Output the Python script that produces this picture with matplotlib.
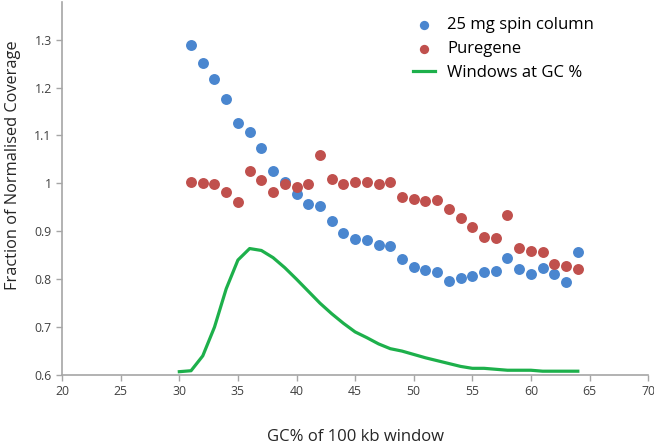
import matplotlib
matplotlib.use('Agg')
import matplotlib.pyplot as plt

plt.rcParams['font.family'] = ['Open Sans', 'DejaVu Sans']

# GC% bins
gc = list(range(31, 65))
# 25 mg spin column coverage
spin = [1.288, 1.251, 1.217, 1.177, 1.127, 1.107, 1.074, 1.026, 1.002, 0.978,
        0.956, 0.953, 0.922, 0.897, 0.884, 0.881, 0.872, 0.870, 0.842, 0.826,
        0.819, 0.814, 0.797, 0.803, 0.806, 0.814, 0.817, 0.844, 0.821, 0.811,
        0.823, 0.811, 0.794, 0.856]
# Puregene coverage
puregene = [1.002, 1.000, 0.999, 0.982, 0.962, 1.025, 1.007, 0.982, 0.999, 0.992,
            0.999, 1.059, 1.010, 0.999, 1.003, 1.003, 0.999, 1.003, 0.971, 0.968,
            0.963, 0.966, 0.946, 0.927, 0.909, 0.889, 0.886, 0.935, 0.866, 0.859,
            0.856, 0.831, 0.828, 0.821]
# distribution of windows at each GC%
gc_win = list(range(30, 65))
windows = [0.607, 0.609, 0.640, 0.700, 0.780, 0.840, 0.864, 0.860, 0.845, 0.824,
           0.800, 0.775, 0.750, 0.728, 0.708, 0.690, 0.678, 0.665, 0.655, 0.650,
           0.643, 0.636, 0.630, 0.624, 0.618, 0.614, 0.614, 0.612, 0.610, 0.610,
           0.610, 0.608, 0.608, 0.608, 0.608]

fig = plt.figure(figsize=(6.54, 4.47), dpi=100)
ax = fig.add_axes([0.095, 0.161, 0.896, 0.835])

ax.scatter(gc, spin, s=62, color='#4A86CF', label='25 mg spin column', zorder=3, linewidths=0)
ax.scatter(gc, puregene, s=62, color='#C0504D', label='Puregene', zorder=3, linewidths=0)
ax.plot(gc_win, windows, color='#1DB04B', lw=2.3, label='Windows at GC %', zorder=2)

ax.set_xlim(20, 70)
ax.set_ylim(0.6, 1.379)
ax.set_xticks(range(20, 71, 5))
ax.set_yticks([0.6, 0.7, 0.8, 0.9, 1.0, 1.1, 1.2, 1.3])
ax.set_yticklabels(['0.6', '0.7', '0.8', '0.9', '1', '1.1', '1.2', '1.3'])

for s in ['top', 'right']:
    ax.spines[s].set_visible(False)
for s in ['left', 'bottom']:
    ax.spines[s].set_color('#A6A6A6')
    ax.spines[s].set_linewidth(1.2)
ax.tick_params(colors='#A6A6A6', labelcolor='#404040', labelsize=8.8, length=4, width=1)

ax.set_xlabel('GC% of 100 kb window', fontsize=12, color='#262626', labelpad=22)
ax.set_ylabel('Fraction of Normalised Coverage', fontsize=11.8, color='#262626')
ax.yaxis.set_label_coords(-0.07, 0.563)

ax.legend(loc='upper left', bbox_to_anchor=(413 / 654, 1 - 17 / 447),
          bbox_transform=fig.transFigure, borderpad=0, borderaxespad=0,
          frameon=False, fontsize=12, handlelength=1.3, handletextpad=0.75,
          labelspacing=0.48, markerscale=0.85)

fig.savefig('out.png', dpi=100)
